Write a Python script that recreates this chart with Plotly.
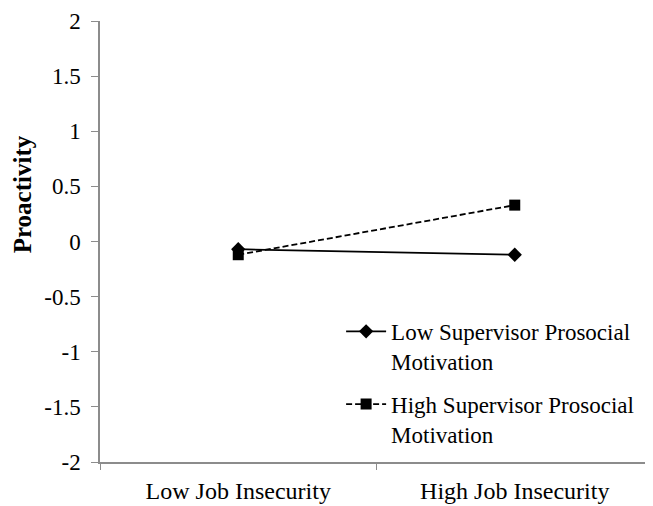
import plotly.graph_objects as go

categories = ["Low Job Insecurity", "High Job Insecurity"]
low_sup = [-0.07, -0.12]
high_sup = [-0.12, 0.33]
y_ticks = [2, 1.5, 1, 0.5, 0, -0.5, -1, -1.5, -2]
y_tick_labels = ["2", "1.5", "1", "0.5", "0", "-0.5", "-1", "-1.5", "-2"]

FONT = "Liberation Serif, Times New Roman, serif"

fig = go.Figure()
fig.add_trace(go.Scatter(
    x=categories, y=low_sup, mode="lines+markers",
    name="Low Supervisor Prosocial<br>Motivation",
    line=dict(color="black", width=1.8),
    marker=dict(symbol="diamond", size=11, color="black"),
    legendgroup="a",
))
fig.add_trace(go.Scatter(
    x=categories, y=high_sup, mode="lines+markers",
    name="High Supervisor Prosocial<br>Motivation",
    line=dict(color="black", width=1.8, dash="6px,3px"),
    marker=dict(symbol="square", size=11, color="black"),
    legendgroup="b",
))

fig.update_layout(
    width=653, height=506,
    margin=dict(l=92, r=8, t=13, b=52, autoexpand=False),
    paper_bgcolor="white", plot_bgcolor="white",
    font=dict(family=FONT, size=23, color="black"),
    showlegend=True,
    legend=dict(x=0.436, y=0.345, xanchor="left", yanchor="top",
                bgcolor="rgba(0,0,0,0)", font=dict(family=FONT, size=23),
                tracegroupgap=10, itemwidth=40, valign="top"),
    xaxis=dict(type="category", range=[-0.5, 1.5], showgrid=False,
               showline=True, linecolor="#8c8c8c", linewidth=1.5,
               ticks="outside", tickson="boundaries", ticklen=6,
               tickcolor="#8c8c8c", zeroline=False, ticklabelstandoff=6,
               automargin=False,
               tickfont=dict(family=FONT, size=24)),
    yaxis=dict(range=[-2, 2], tickvals=y_ticks, ticktext=y_tick_labels,
               showgrid=False, showline=True, linecolor="#8c8c8c",
               linewidth=1.5, ticks="outside", ticklen=7,
               tickcolor="#8c8c8c", zeroline=False, ticklabelstandoff=6,
               ticklabeloverflow="allow", automargin=False,
               tickfont=dict(family=FONT, size=23)),
    annotations=[dict(text="<b>Proactivity</b>", textangle=-90,
                      xref="paper", yref="paper", x=0, y=0.607,
                      xanchor="center", yanchor="middle", xshift=-78,
                      showarrow=False, font=dict(family=FONT, size=25))],
)

fig.write_html("out.html")
